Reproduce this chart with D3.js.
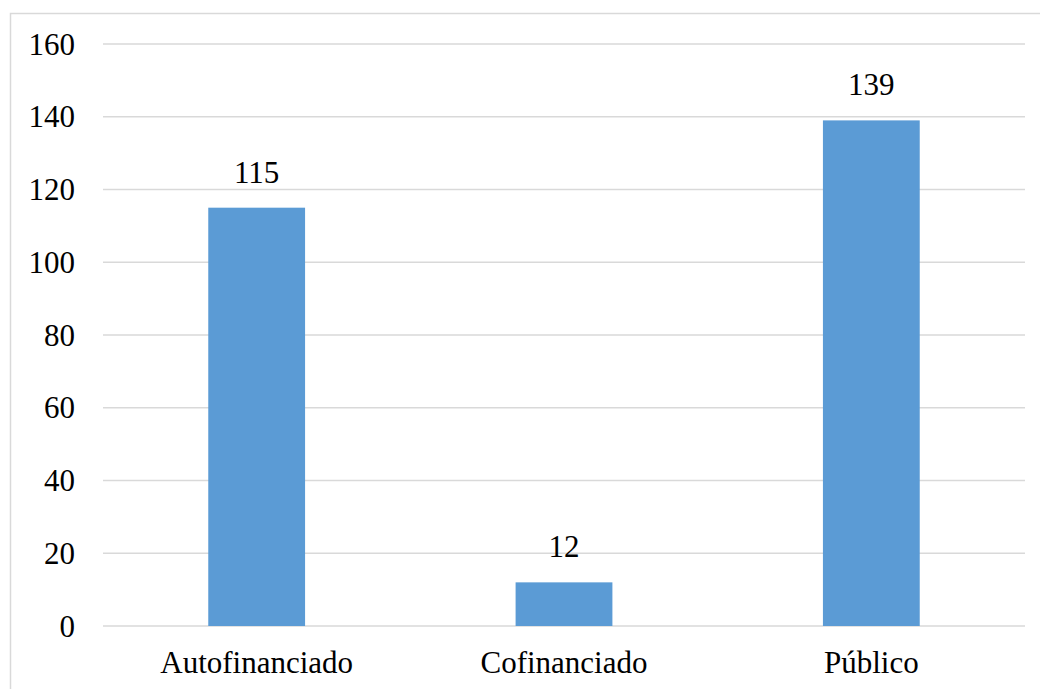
<!DOCTYPE html>
<html>
<head>
<meta charset="utf-8">
<script src="https://cdn.jsdelivr.net/npm/d3@7"></script>
<style>
  body { margin: 0; background: #fff; }
  svg text { font-family: "Times New Roman", "Liberation Serif", Times, serif; }
</style>
</head>
<body>
<script>
// Chart data
var categories = ["Autofinanciado", "Cofinanciado", "Público"];
var values = [115, 12, 139];
var yTicks = [0, 20, 40, 60, 80, 100, 120, 140, 160];

var svgWidth = 1040;
var svgHeight = 689;
var fontFamily = "Times New Roman";

// Plot area edges
var chartMargin = { top: 44, right: 15, bottom: 63, left: 103 };
var chartWidth = svgWidth - chartMargin.left - chartMargin.right;
var chartHeight = svgHeight - chartMargin.top - chartMargin.bottom;

var svg = d3.select("body")
  .append("svg")
  .attr("width", svgWidth)
  .attr("height", svgHeight);

// outer frame of the chart
svg.append("rect")
  .attr("x", 10.5)
  .attr("y", 13.5)
  .attr("width", svgWidth)
  .attr("height", svgHeight)
  .attr("fill", "none")
  .attr("stroke", "#d9d9d9")
  .attr("stroke-width", 1.5);

var chartGroup = svg.append("g")
  .attr("transform", `translate(${chartMargin.left}, ${chartMargin.top})`);

var xBandScale = d3.scaleBand()
  .domain(categories)
  .range([0, chartWidth]);

var yLinearScale = d3.scaleLinear()
  .domain([0, 160])
  .range([chartHeight, 0]);

var barWidth = xBandScale.step() * 0.315;

// gridlines
chartGroup.selectAll(null)
  .data(yTicks)
  .enter()
  .append("line")
  .attr("x1", 0)
  .attr("x2", chartWidth)
  .attr("y1", d => yLinearScale(d))
  .attr("y2", d => yLinearScale(d))
  .attr("stroke", "#d9d9d9")
  .attr("stroke-width", 1.5);

// bars
chartGroup.selectAll(null)
  .data(values)
  .enter()
  .append("rect")
  .attr("x", (d, i) => xBandScale(categories[i]) + xBandScale.bandwidth() / 2 - barWidth / 2)
  .attr("y", d => yLinearScale(d))
  .attr("width", barWidth)
  .attr("height", d => chartHeight - yLinearScale(d))
  .attr("fill", "#5b9bd5");

// y tick labels
chartGroup.selectAll(null)
  .data(yTicks)
  .enter()
  .append("text")
  .attr("x", -28)
  .attr("y", d => yLinearScale(d) + 10.5)
  .attr("text-anchor", "end")
  .attr("font-family", fontFamily)
  .attr("font-size", 31)
  .attr("fill", "#000000")
  .text(d => String(d));

// value labels
chartGroup.selectAll(null)
  .data(values)
  .enter()
  .append("text")
  .attr("x", (d, i) => xBandScale(categories[i]) + xBandScale.bandwidth() / 2)
  .attr("y", d => yLinearScale(d) - 25)
  .attr("text-anchor", "middle")
  .attr("font-family", fontFamily)
  .attr("font-size", 31)
  .attr("fill", "#000000")
  .text(d => String(d));

// category labels
chartGroup.selectAll(null)
  .data(categories)
  .enter()
  .append("text")
  .attr("x", d => xBandScale(d) + xBandScale.bandwidth() / 2)
  .attr("y", chartHeight + 47)
  .attr("text-anchor", "middle")
  .attr("font-family", fontFamily)
  .attr("font-size", 31)
  .attr("fill", "#000000")
  .text(d => d);
</script>
</body>
</html>
